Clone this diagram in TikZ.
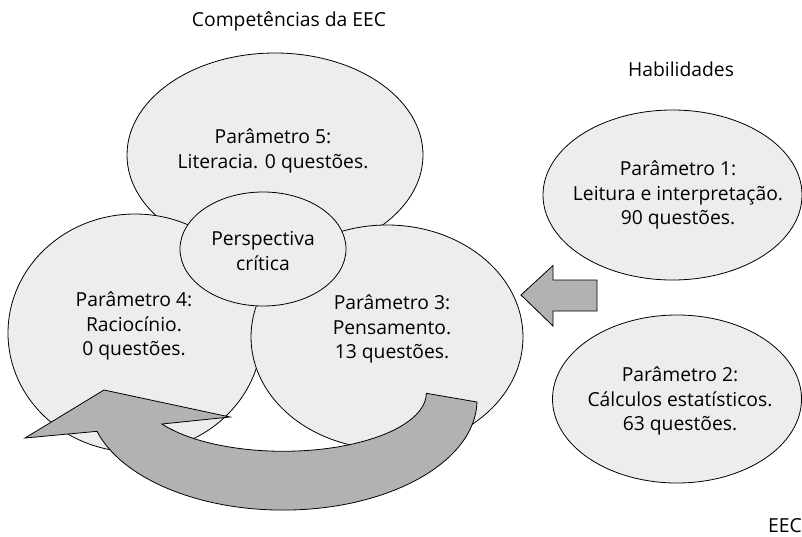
\documentclass[tikz,border=0pt]{standalone}
\usepackage{fontspec}
\setmainfont{Open Sans}
\usetikzlibrary{shapes.geometric}
\definecolor{ellfill}{RGB}{236,237,236}
\definecolor{arrfill}{RGB}{178,178,180}
\tikzset{
  ell/.style={ellipse, draw=black, line width=0.8pt, fill=ellfill, inner sep=0pt, outer sep=0pt},
  blockarrow/.style={draw=black, line width=0.8pt, fill=arrfill, line join=miter},
  txt/.style={align=center, inner sep=0pt, font=\fontsize{19.3}{24.5}\selectfont},
}
\begin{document}
\begin{tikzpicture}[x=1pt,y=-1pt]
\useasboundingbox (0,0) rectangle (802,536);
% ellipses of the competence cluster
\node[ell, minimum width=296pt, minimum height=204pt] (p5) at (275,155) {};
\node[ell, minimum width=254pt, minimum height=238pt] (p4) at (135,333) {};
\node[ell, minimum width=272pt, minimum height=224pt] (p3) at (387,337) {};
\node[ell, minimum width=166pt, minimum height=114pt] (pc) at (263,249) {};
% curved arrow
\draw[blockarrow] (477,402) arc[start angle=-1, end angle=-163.5, x radius=194pt, y radius=110pt]
  -- (25,438) -- (104,390) -- (230,417) -- (162,424)
  arc[start angle=-148, end angle=0, x radius=143pt, y radius=58pt] -- cycle;
% skills ellipses
\node[ell, minimum width=259pt, minimum height=170pt] (p1) at (672.5,195) {};
\node[ell, minimum width=249pt, minimum height=168pt] (p2) at (677,399) {};
% straight block arrow
\draw[blockarrow] (521,295) -- (553,265.5) -- (553,280) -- (597,280) -- (597,311) -- (553,311) -- (553,326) -- cycle;
% texts
\node[txt] (t5) at (273,151) {Parâmetro 5:\\Literacia. 0 questões.};
\node[txt] (tpc) at (263,251) {Perspectiva\\crítica};
\node[txt] (t4) at (134,326) {Parâmetro 4:\\Raciocínio.\\0 questões.};
\node[txt] (t3) at (392,329) {Parâmetro 3:\\Pensamento.\\13 questões.};
\node[txt] (t1) at (678,195) {Parâmetro 1:\\Leitura e interpretação.\\90 questões.};
\node[txt] (t2) at (680,401) {Parâmetro 2:\\Cálculos estatísticos.\\63 questões.};
\node[txt, anchor=base] (title1) at (289,26) {Competências da EEC};
\node[txt, anchor=base] (title2) at (681,76) {Habilidades};
\node[txt, anchor=base east] (src) at (802,532) {EEC};
\end{tikzpicture}
\end{document}
